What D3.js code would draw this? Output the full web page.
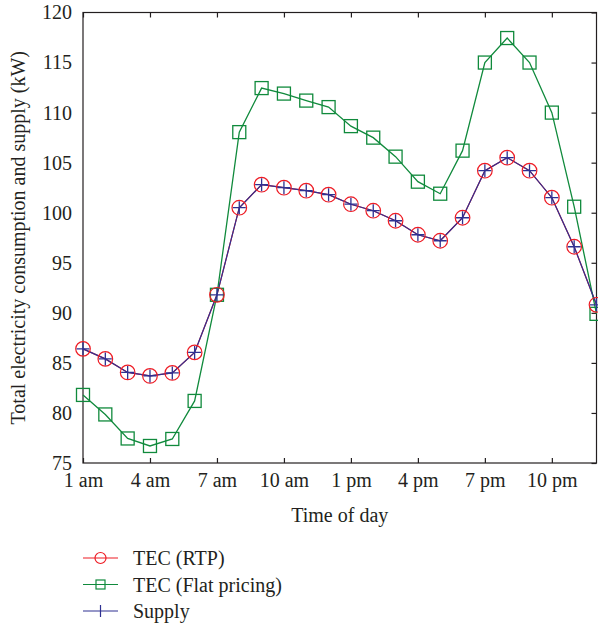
<!DOCTYPE html>
<html>
<head>
<meta charset="utf-8">
<script src="https://cdn.jsdelivr.net/npm/d3@7"></script>
<style>
  body { margin: 0; background: #fff; }
  svg text { font-family: "Liberation Serif", "DejaVu Serif", serif; fill: #231f20; }
</style>
</head>
<body>
<div id="chart"></div>
<script>
const hours = d3.range(1, 25);
const rtp = [86.4, 85.4, 84.05, 83.7, 84.0, 86.05, 91.8, 100.5, 102.8, 102.5, 102.2, 101.8,
  100.85, 100.2, 99.2, 97.8, 97.2, 99.5, 104.2, 105.5, 104.2, 101.5, 96.6, 90.8];
const flat = [81.8, 79.85, 77.45, 76.7, 77.4, 81.2, 91.8, 108.05, 112.45, 111.9, 111.2, 110.55,
  108.65, 107.5, 105.6, 103.1, 101.9, 106.2, 115.0, 117.45, 115.0, 110.0, 100.6, 89.9];
const supply = rtp.slice();
const xTicks = [1, 4, 7, 10, 13, 16, 19, 22];
const xTickLabels = ["1 am", "4 am", "7 am", "10 am", "1 pm", "4 pm", "7 pm", "10 pm"];
const yTicks = [75, 80, 85, 90, 95, 100, 105, 110, 115, 120];

const W = 598, H = 630;
const margin = {top: 12.5, right: 1.5, bottom: 167, left: 83};
const width = W - margin.left - margin.right,
    height = H - margin.top - margin.bottom;

const red = "#ee1c25", green = "#108a3c", blue = "#2e3192";
const fs = "20px";

const svgRoot = d3.select("#chart").append("svg")
    .attr("width", W).attr("height", H);
const svg = svgRoot.append("g")
    .attr("transform", "translate(" + margin.left + "," + margin.top + ")");

const x = d3.scaleLinear().domain([1, 24]).range([0, width]);
const y = d3.scaleLinear().domain([75, 120]).range([height, 0]);

// box and inward ticks
svg.append("rect").attr("width", width).attr("height", height)
    .attr("fill", "none").attr("stroke", "#231f20").attr("stroke-width", 1.2);

svg.append("g").attr("transform", "translate(0," + height + ")")
    .call(d3.axisBottom(x).tickValues(xTicks).tickSize(-5).tickPadding(10)
      .tickFormat((d, i) => xTickLabels[i]));
svg.append("g")
    .call(d3.axisTop(x).tickValues(xTicks).tickSize(-5).tickFormat(""));
svg.append("g")
    .call(d3.axisLeft(y).tickValues(yTicks).tickSize(0).tickPadding(11));
svg.append("g").attr("transform", "translate(" + width + ",0)")
    .call(d3.axisRight(y).tickValues(yTicks).tickSize(-5).tickFormat(""));

svg.selectAll(".domain").remove();
svg.selectAll(".tick line").attr("stroke", "#231f20").attr("stroke-width", 1.2);
svg.selectAll(".tick text").style("font-size", fs).attr("fill", "#231f20");

// lines
const line = d3.line().x((d, i) => x(hours[i])).y(d => y(d));

svg.append("path").datum(rtp).attr("d", line)
    .attr("fill", "none").attr("stroke", red).attr("stroke-width", 1.2);
svg.append("path").datum(flat).attr("d", line)
    .attr("fill", "none").attr("stroke", green).attr("stroke-width", 1.3);
svg.append("path").datum(supply).attr("d", line)
    .attr("fill", "none").attr("stroke", blue).attr("stroke-width", 1.2);

// markers
svg.selectAll(".sq").data(flat).enter().append("rect")
    .attr("x", (d, i) => x(hours[i]) - 6.5).attr("y", d => y(d) - 6.5)
    .attr("width", 13).attr("height", 13)
    .attr("fill", "none").attr("stroke", green).attr("stroke-width", 1.3);

svg.selectAll(".ci").data(rtp).enter().append("circle")
    .attr("cx", (d, i) => x(hours[i])).attr("cy", d => y(d)).attr("r", 7.3)
    .attr("fill", "none").attr("stroke", red).attr("stroke-width", 1.2);

svg.selectAll(".pl").data(supply).enter().append("path")
    .attr("d", (d, i) => {
      const cx = x(hours[i]), cy = y(d);
      return "M" + (cx - 6.5) + "," + cy + "H" + (cx + 6.5) + "M" + cx + "," + (cy - 6.5) + "V" + (cy + 6.5);
    })
    .attr("stroke", blue).attr("stroke-width", 1.3).attr("fill", "none");

// axis titles
svgRoot.append("text")
    .attr("transform", "translate(25," + (margin.top + height / 2) + ") rotate(-90)")
    .attr("text-anchor", "middle")
    .style("font-size", fs)
    .text("Total electricity consumption and supply (kW)");

svgRoot.append("text")
    .attr("x", margin.left + width / 2).attr("y", 522)
    .attr("text-anchor", "middle")
    .style("font-size", fs)
    .text("Time of day");

// legend
const legend = [
  {name: "TEC (RTP)", color: red, mark: "circle"},
  {name: "TEC (Flat pricing)", color: green, mark: "square"},
  {name: "Supply", color: blue, mark: "plus"}
];
const lg = svgRoot.append("g").attr("transform", "translate(83,558)");
legend.forEach((d, i) => {
  const g = lg.append("g").attr("transform", "translate(0," + i * 26.5 + ")");
  g.append("line").attr("x1", 0).attr("x2", 35).attr("y1", 0).attr("y2", 0)
      .attr("stroke", d.color).attr("stroke-width", 1.2);
  if (d.mark === "circle") {
    g.append("circle").attr("cx", 17.5).attr("cy", 0).attr("r", 5.5)
        .attr("fill", "none").attr("stroke", d.color).attr("stroke-width", 1.2);
  } else if (d.mark === "square") {
    g.append("rect").attr("x", 13).attr("y", -4.5).attr("width", 9).attr("height", 9)
        .attr("fill", "none").attr("stroke", d.color).attr("stroke-width", 1.2);
  } else {
    g.append("line").attr("x1", 17.5).attr("x2", 17.5).attr("y1", -6).attr("y2", 6)
        .attr("stroke", d.color).attr("stroke-width", 1.2);
  }
  g.append("text").attr("x", 50).attr("y", 7)
      .style("font-size", fs).text(d.name);
});
</script>
</body>
</html>
